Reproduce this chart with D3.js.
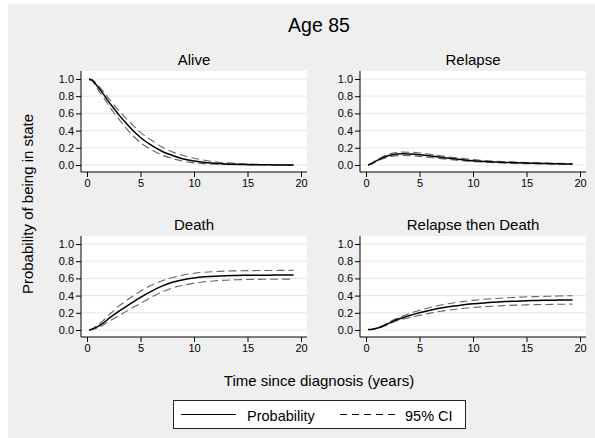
<!DOCTYPE html>
<meta charset="utf-8">
<script src="https://d3js.org/d3.v7.min.js"></script>
<style>
  body { margin: 0; background: #fff; }
  text { font-family: "Liberation Sans", Arial, Helvetica, sans-serif; }
</style>
<div id="my_dataviz"></div>
<script>
// years since diagnosis (shared by all series)
var times = [0.2, 0.5, 1, 1.5, 2, 2.5, 3, 3.5, 4, 5, 6, 7, 8, 9, 10, 11, 12, 13, 14, 15, 16, 17, 18, 19.3];

var states = ["Alive", "Relapse", "Death", "Relapse then Death"];

var aliveProb = [1.0, 0.985, 0.91, 0.83, 0.74, 0.66, 0.58, 0.51, 0.44, 0.32, 0.23, 0.16, 0.11, 0.07, 0.047, 0.03, 0.02, 0.012, 0.008, 0.005, 0.003, 0.002, 0.001, 0.001];
var aliveUpper = [1.0, 0.99, 0.93, 0.86, 0.78, 0.70, 0.63, 0.56, 0.50, 0.38, 0.29, 0.21, 0.15, 0.11, 0.078, 0.055, 0.038, 0.026, 0.018, 0.012, 0.008, 0.005, 0.003, 0.002];
var aliveLower = [0.99, 0.975, 0.88, 0.79, 0.70, 0.61, 0.53, 0.45, 0.38, 0.26, 0.18, 0.115, 0.075, 0.045, 0.025, 0.015, 0.009, 0.005, 0.003, 0.002, 0.001, 0.0005, 0.0003, 0.0002];

var relapseProb = [0.0, 0.015, 0.05, 0.08, 0.105, 0.12, 0.127, 0.13, 0.128, 0.12, 0.105, 0.09, 0.075, 0.062, 0.05, 0.042, 0.035, 0.03, 0.026, 0.022, 0.019, 0.016, 0.014, 0.012];
var relapseUpper = [0.0, 0.018, 0.058, 0.093, 0.12, 0.138, 0.147, 0.15, 0.149, 0.14, 0.124, 0.107, 0.091, 0.077, 0.063, 0.053, 0.045, 0.039, 0.034, 0.029, 0.025, 0.022, 0.019, 0.017];
var relapseLower = [0.0, 0.012, 0.043, 0.069, 0.09, 0.103, 0.109, 0.111, 0.109, 0.1, 0.087, 0.074, 0.061, 0.05, 0.04, 0.033, 0.027, 0.023, 0.019, 0.016, 0.013, 0.011, 0.009, 0.008];

var deathProb = [0.0, 0.01, 0.04, 0.08, 0.13, 0.175, 0.22, 0.26, 0.3, 0.38, 0.45, 0.51, 0.555, 0.585, 0.605, 0.618, 0.626, 0.631, 0.634, 0.636, 0.637, 0.638, 0.639, 0.64];
var deathUpper = [0.0, 0.015, 0.06, 0.11, 0.17, 0.225, 0.28, 0.325, 0.37, 0.45, 0.52, 0.57, 0.61, 0.64, 0.66, 0.672, 0.68, 0.685, 0.688, 0.69, 0.691, 0.692, 0.693, 0.694];
var deathLower = [0.0, 0.007, 0.025, 0.058, 0.095, 0.133, 0.17, 0.205, 0.24, 0.31, 0.38, 0.44, 0.49, 0.52, 0.545, 0.561, 0.572, 0.579, 0.584, 0.587, 0.589, 0.59, 0.591, 0.592];

var rdProb = [0.005, 0.007, 0.02, 0.04, 0.07, 0.1, 0.125, 0.146, 0.165, 0.2, 0.23, 0.255, 0.275, 0.292, 0.305, 0.315, 0.323, 0.33, 0.335, 0.34, 0.343, 0.346, 0.348, 0.35];
var rdUpper = [0.005, 0.008, 0.023, 0.046, 0.08, 0.113, 0.142, 0.167, 0.19, 0.228, 0.262, 0.29, 0.312, 0.33, 0.345, 0.357, 0.366, 0.374, 0.38, 0.385, 0.389, 0.392, 0.395, 0.399];
var rdLower = [0.004, 0.006, 0.017, 0.035, 0.06, 0.087, 0.11, 0.127, 0.142, 0.17, 0.196, 0.218, 0.235, 0.25, 0.262, 0.271, 0.278, 0.284, 0.289, 0.292, 0.295, 0.297, 0.299, 0.302];

var xTicks = [0, 5, 10, 15, 20];
var yTicks = [0, 0.2, 0.4, 0.6, 0.8, 1.0];

var series = [
  [aliveProb, aliveUpper, aliveLower],
  [relapseProb, relapseUpper, relapseLower],
  [deathProb, deathUpper, deathLower],
  [rdProb, rdUpper, rdLower]
];

var width = 595, height = 438;

var svg = d3.select("#my_dataviz")
  .append("svg")
    .attr("width", width)
    .attr("height", height);

// background
svg.append("rect")
  .attr("x", 8).attr("y", 4)
  .attr("width", width - 8).attr("height", height - 4)
  .attr("fill", "#efefef");

var centerX = 319;

svg.append("text")
  .attr("x", centerX).attr("y", 32)
  .attr("text-anchor", "middle")
  .attr("font-size", "19.5px")
  .text("Age 85");

// panel boxes (plot regions)
var boxW = 226, boxH = 101;
var boxes = [
  {x: 81, y: 71},
  {x: 360, y: 71},
  {x: 81, y: 236},
  {x: 360, y: 236}
];

boxes.forEach(function(b, i) {
  var g = svg.append("g").attr("transform", "translate(" + b.x + "," + b.y + ")");

  var x = d3.scaleLinear().domain([0, 20]).range([6, boxW - 6]);
  var y = d3.scaleLinear().domain([0, 1]).range([94, 8]);

  g.append("rect")
    .attr("width", boxW).attr("height", boxH)
    .attr("fill", "#fff");

  // grid lines
  g.selectAll(".grid")
    .data(yTicks)
    .enter()
    .append("line")
      .attr("x1", 0).attr("x2", boxW)
      .attr("y1", function(d) { return y(d); })
      .attr("y2", function(d) { return y(d); })
      .attr("stroke", "#e6e6e6")
      .attr("stroke-width", 1);

  // axes
  var yAxis = d3.axisLeft(y).tickValues(yTicks).tickFormat(d3.format(".1f")).tickSize(5).tickPadding(2);
  var gy = g.append("g").call(yAxis);
  gy.select(".domain").remove();
  g.append("line")
    .attr("x1", 0).attr("x2", 0).attr("y1", 0).attr("y2", boxH)
    .attr("stroke", "#000");

  var xAxis = d3.axisBottom(x).tickValues(xTicks).tickSize(5).tickPadding(2);
  var gx = g.append("g").attr("transform", "translate(0," + boxH + ")").call(xAxis);
  gx.select(".domain").remove();
  g.append("line")
    .attr("x1", 0).attr("x2", boxW).attr("y1", boxH).attr("y2", boxH)
    .attr("stroke", "#000");

  g.selectAll(".tick text")
    .attr("font-size", "11px")
    .attr("font-family", "Liberation Sans, Arial, sans-serif")
    .attr("fill", "#000");

  // title of the panel
  g.append("text")
    .attr("x", boxW / 2).attr("y", -6)
    .attr("text-anchor", "middle")
    .attr("font-size", "15px")
    .text(states[i]);

  var line = d3.line()
    .x(function(d) { return x(d[0]); })
    .y(function(d) { return y(d[1]); })
    .curve(d3.curveMonotoneX);

  // CI lines first, then probability on top
  [1, 2].forEach(function(k) {
    g.append("path")
      .datum(d3.zip(times, series[i][k]))
      .attr("d", line)
      .attr("fill", "none")
      .attr("stroke", "#666")
      .attr("stroke-width", 1.1)
      .attr("stroke-dasharray", "8,4");
  });

  g.append("path")
    .datum(d3.zip(times, series[i][0]))
    .attr("d", line)
    .attr("fill", "none")
    .attr("stroke", "#000")
    .attr("stroke-width", 1.5);
});

// axis titles
svg.append("text")
  .attr("transform", "translate(33,204) rotate(-90)")
  .attr("text-anchor", "middle")
  .attr("font-size", "15px")
  .text("Probability of being in state");

svg.append("text")
  .attr("x", centerX).attr("y", 386)
  .attr("text-anchor", "middle")
  .attr("font-size", "15px")
  .text("Time since diagnosis (years)");

// legend
var legend = svg.append("g");
legend.append("rect")
  .attr("x", 173.5).attr("y", 400.5)
  .attr("width", 292).attr("height", 28)
  .attr("fill", "#fff")
  .attr("stroke", "#222")
  .attr("stroke-width", 1);

legend.append("line")
  .attr("x1", 181).attr("x2", 236).attr("y1", 414.5).attr("y2", 414.5)
  .attr("stroke", "#000").attr("stroke-width", 1.2);
legend.append("text")
  .attr("x", 247).attr("y", 420.5)
  .attr("font-size", "14.5px")
  .text("Probability");

legend.append("line")
  .attr("x1", 340).attr("x2", 396).attr("y1", 414.5).attr("y2", 414.5)
  .attr("stroke", "#000").attr("stroke-width", 1)
  .attr("stroke-dasharray", "7,5");
legend.append("text")
  .attr("x", 405).attr("y", 420.5)
  .attr("font-size", "14.5px")
  .text("95% CI");
</script>
